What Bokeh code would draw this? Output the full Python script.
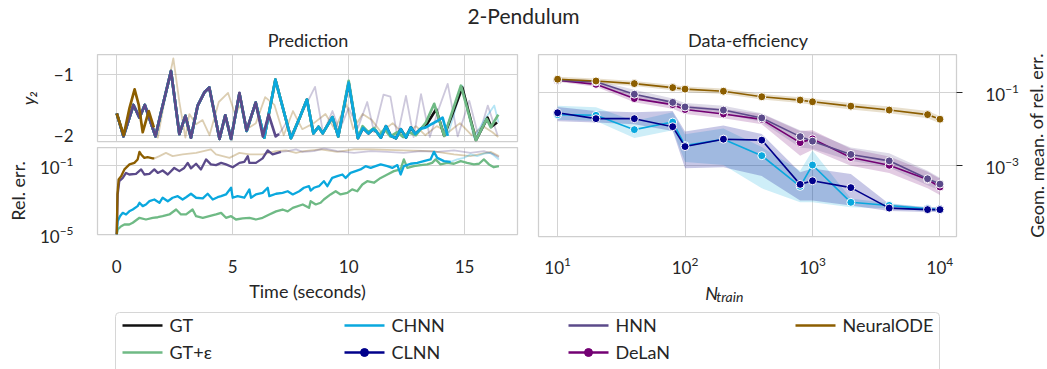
from bokeh.plotting import figure
from bokeh.layouts import column, row
from bokeh.models import Range1d, FixedTicker
from bokeh.embed import file_html
from bokeh.resources import INLINE
from bokeh.core.properties import value

FONT = "Lato"
TXT = "#262626"
GRID = "#d3d3d3"
OUTLINE = "#cfcfcf"

C_GT = "#111111"
C_GTE = "#6fba85"
C_CHNN = "#0aa8de"
C_CLNN = "#00008b"
C_HNN = "#5b4a8a"
C_DELAN = "#730073"
C_NODE = "#8c5e00"

# ---------------- Prediction: y2 trajectories ----------------
gt_t = [0.0, 0.29, 0.72, 0.98, 1.21, 1.67, 1.91, 2.12, 2.34, 2.70, 2.96, 3.20, 3.49, 3.78, 3.99, 4.43, 4.68, 4.93, 5.29, 5.60, 5.99, 6.36, 6.84, 7.51, 7.90, 8.20, 8.48, 8.70, 8.88, 9.30, 9.55, 10.00, 10.40, 10.62, 10.85, 11.05, 11.18, 11.39, 11.61, 11.82, 12.04, 12.25, 12.47, 12.68, 12.87, 13.12, 13.40, 13.77, 14.12, 14.90, 15.49, 15.99, 16.15, 16.40]
gt_y = [-1.64, -2.02, -1.50, -1.71, -1.50, -2.02, -1.62, -1.29, -0.94, -1.98, -1.68, -2.04, -1.51, -1.29, -1.21, -2.06, -1.67, -2.06, -1.31, -1.93, -1.46, -2.04, -1.08, -2.05, -1.70, -1.41, -1.97, -1.86, -1.97, -1.70, -2.02, -1.13, -2.05, -1.88, -1.97, -1.90, -1.93, -2.04, -1.85, -2.01, -2.05, -1.90, -2.04, -1.87, -1.98, -1.89, -1.80, -1.57, -2.01, -1.21, -2.08, -1.71, -1.86, -1.79]

gte_t = [0.0, 0.29, 0.72, 0.98, 1.21, 1.67, 1.91, 2.12, 2.34, 2.70, 2.96, 3.20, 3.49, 3.78, 3.99, 4.43, 4.68, 4.93, 5.29, 5.60, 5.99, 6.36, 6.84, 7.51, 7.90, 8.20, 8.48, 8.70, 8.88, 9.30, 9.55, 10.00, 10.40, 10.60, 10.85, 11.10, 11.30, 11.55, 11.80, 12.10, 12.35, 12.60, 12.90, 13.33, 13.69, 14.12, 14.84, 15.49, 15.95, 16.13, 16.45]
gte_y = [-1.64, -2.02, -1.50, -1.71, -1.50, -2.02, -1.62, -1.29, -0.94, -1.98, -1.68, -2.04, -1.51, -1.29, -1.21, -2.06, -1.67, -2.06, -1.31, -1.93, -1.46, -2.04, -1.08, -2.05, -1.70, -1.41, -1.97, -1.86, -1.97, -1.70, -2.02, -1.10, -2.04, -1.85, -1.95, -1.88, -2.00, -1.90, -2.02, -1.95, -2.03, -1.95, -2.00, -1.79, -1.48, -2.01, -1.18, -2.08, -1.73, -1.87, -1.66]

chnn_t = [0.0, 0.29, 0.72, 0.98, 1.21, 1.67, 1.91, 2.12, 2.34, 2.70, 2.96, 3.20, 3.49, 3.78, 3.99, 4.43, 4.68, 4.93, 5.29, 5.60, 5.99, 6.36, 6.84, 7.51, 7.90, 8.20, 8.48, 8.70, 8.88, 9.30, 9.55, 10.00, 10.40, 10.62, 10.85, 11.05, 11.18, 11.39, 11.61, 11.82, 12.04, 12.25, 12.47, 12.68, 12.87, 13.12, 13.33, 13.55, 13.84, 14.05, 14.27]
chnn_y = [-1.64, -2.02, -1.50, -1.71, -1.50, -2.02, -1.62, -1.29, -0.94, -1.98, -1.68, -2.04, -1.51, -1.29, -1.21, -2.06, -1.67, -2.06, -1.31, -1.93, -1.46, -2.04, -1.08, -2.05, -1.70, -1.41, -1.97, -1.86, -1.97, -1.70, -2.02, -1.13, -2.05, -1.88, -1.97, -1.90, -1.93, -2.04, -1.85, -2.01, -2.05, -1.90, -2.04, -1.87, -1.98, -1.89, -1.87, -1.82, -1.76, -1.71, -2.01]
chnn_fade_t = [14.27, 14.90, 15.40, 15.85, 16.28, 16.46]
chnn_fade_y = [-2.01, -1.18, -2.04, -1.75, -1.51, -1.79]

hnn_t = [0.0, 0.29, 0.72, 0.98, 1.21, 1.67, 1.91, 2.12, 2.34, 2.70, 2.96, 3.20, 3.49, 3.78, 3.99, 4.43, 4.68, 4.93, 5.29, 5.60, 5.99, 6.30, 6.55, 6.85, 7.00]
hnn_y = [-1.64, -2.02, -1.50, -1.71, -1.50, -2.02, -1.62, -1.29, -0.94, -1.98, -1.68, -2.04, -1.51, -1.29, -1.21, -2.06, -1.67, -2.06, -1.30, -1.92, -1.46, -2.02, -1.66, -2.02, -1.98]
hnn_fade_t = [7.00, 7.30, 7.60, 8.00, 8.55, 8.90, 9.30, 9.60, 10.00, 10.40, 10.80, 11.10, 11.50, 11.80, 12.10, 12.47, 12.80, 13.12, 13.50, 13.85, 14.27, 14.70, 15.20, 15.60, 16.00, 16.42]
hnn_fade_y = [-1.98, -1.80, -2.02, -1.62, -1.20, -1.97, -1.60, -1.92, -1.55, -1.88, -1.45, -1.95, -1.33, -1.36, -2.02, -1.35, -2.03, -1.32, -2.03, -1.60, -1.15, -2.02, -1.43, -2.02, -1.51, -2.00]

node_t = [0.0, 0.30, 0.55, 0.77, 0.95, 1.12, 1.38, 1.60]
node_y = [-1.64, -2.00, -1.55, -1.24, -1.50, -1.95, -1.60, -1.87]
node_fade_t = [1.60, 1.77, 2.10, 2.44, 2.70, 2.96, 3.13, 3.42, 3.70, 4.00, 4.40, 4.80, 5.10, 5.35, 5.60, 6.00, 6.40, 6.80, 7.20, 7.60, 8.00, 8.50, 9.00, 9.40, 9.90, 10.20, 10.60, 11.00, 11.40, 11.90, 12.40, 12.90, 13.30, 13.80, 14.30, 14.80, 15.30, 15.80, 16.20, 16.45]
node_fade_y = [-1.87, -2.04, -1.35, -0.73, -1.45, -2.04, -1.65, -1.82, -1.75, -2.00, -1.45, -1.30, -1.65, -1.50, -1.90, -1.80, -1.37, -1.50, -2.00, -1.60, -1.90, -1.80, -1.65, -1.90, -1.48, -1.90, -1.65, -1.75, -1.95, -1.80, -2.00, -1.85, -2.00, -1.85, -1.95, -1.80, -2.00, -1.85, -1.95, -2.03]

# ---------------- Prediction: relative error ----------------
node_err_t = [0.0, 0.03, 0.08, 0.19, 0.33, 0.55, 0.76, 0.90, 0.98, 1.05, 1.19, 1.33, 1.55, 1.62]
node_err = [1e-5, 2.1e-3, 1.55e-2, 2.4e-2, 5.9e-2, 0.115, 0.141, 0.224, 0.617, 0.437, 0.275, 0.30, 0.257, 0.257]
node_err_fade_t = [1.62, 1.84, 2.12, 2.41, 2.84, 3.42, 4.06, 4.28, 4.86, 5.29, 5.72, 6.29, 6.87, 7.30, 7.73, 8.07, 8.79, 9.51, 10.23, 10.95, 12.38, 13.61, 14.54, 15.25, 16.12, 16.48]
node_err_fade = [0.257, 0.347, 0.537, 0.347, 0.437, 0.537, 0.851, 0.437, 0.275, 0.537, 0.437, 0.437, 0.676, 0.741, 0.537, 0.676, 0.851, 0.617, 0.851, 0.851, 0.741, 0.676, 0.437, 0.347, 0.617, 0.347]

hnn_err_t = [0.0, 0.04, 0.11, 0.26, 0.40, 0.54, 0.83, 1.05, 1.19, 1.41, 1.62, 1.77, 1.98, 2.20, 2.48, 2.70, 2.91, 3.06, 3.20, 3.42, 3.63, 3.85, 4.06, 4.28, 4.50, 4.71, 5.00, 5.29, 5.50, 5.65, 5.72, 6.00, 6.29, 6.51, 6.72, 6.94, 7.08]
hnn_err = [1e-5, 2.1e-3, 1.23e-2, 1.9e-2, 3.7e-2, 3.0e-2, 3.3e-2, 5.9e-2, 3.0e-2, 3.3e-2, 5.9e-2, 3.7e-2, 5.1e-2, 3.0e-2, 7.2e-2, 4.7e-2, 7.2e-2, 0.141, 6.8e-2, 0.126, 5.9e-2, 0.224, 0.115, 0.105, 0.141, 0.115, 7.9e-2, 0.141, 0.162, 0.347, 0.141, 0.141, 0.257, 0.741, 0.437, 0.537, 0.617]
hnn_err_fade_t = [7.08, 7.37, 7.73, 8.02, 8.50, 8.93, 9.51, 10.23, 10.95, 11.66, 12.38, 13.10, 13.82, 14.54, 15.25, 15.83, 16.26, 16.48]
hnn_err_fade = [0.617, 0.676, 0.851, 0.617, 0.676, 0.977, 0.676, 0.537, 0.676, 0.617, 0.537, 0.676, 0.617, 0.741, 0.537, 0.676, 0.437, 0.30]

chnn_err_t = [0.0, 0.04, 0.14, 0.26, 0.40, 0.54, 0.69, 0.90, 0.98, 1.12,
              1.26, 1.41, 1.62, 1.84, 1.98, 2.20, 2.41, 2.63, 2.84, 2.99,
              3.20, 3.42, 3.71, 3.92, 4.14, 4.35, 4.50, 4.71, 4.93, 5.00,
              5.21, 5.50, 5.72, 5.79, 6.00, 6.29, 6.51, 6.58, 6.87, 7.15,
              7.37, 7.59, 7.87, 8.07, 8.29, 8.36, 8.50, 8.72, 8.93, 9.08,
              9.29, 9.51, 9.73, 9.87, 10.08, 10.30, 10.51, 10.73, 10.95, 11.16,
              11.38, 11.67, 11.88, 12.10, 12.24, 12.38, 12.67, 12.96, 13.24, 13.53,
              13.68, 13.82, 14.11, 14.40]
chnn_err = [1e-5, 5.9e-5, 1.15e-4, 1.8e-4, 1.45e-4, 2.2e-4, 2.8e-4, 4.4e-4, 6.9e-4, 4.4e-4,
            5.5e-4, 8.5e-4, 1.07e-3, 6.9e-4, 1.35e-3, 8.5e-4, 1.35e-3, 1.66e-3, 1.07e-3, 1.45e-3,
            2.3e-3, 1.35e-3, 1.23e-3, 2.3e-3, 1.07e-3, 1.45e-3, 1.66e-3, 2.1e-3, 5.1e-3, 1.35e-3,
            1.66e-3, 1.35e-3, 4.1e-3, 1.35e-3, 2.1e-3, 2.6e-3, 5.1e-3, 1.66e-3, 2.3e-3, 2.6e-3,
            3.2e-3, 2.1e-3, 3.2e-3, 5.1e-3, 6.3e-3, 3.5e-3, 5.1e-3, 6.3e-3, 1.23e-2, 6.3e-3,
            1.9e-2, 2.4e-2, 3.0e-2, 1.9e-2, 3.7e-2, 4.7e-2, 5.9e-2, 9.1e-2, 7.2e-2, 9.1e-2,
            0.115, 9.1e-2, 7.2e-2, 0.105, 3.0e-2, 9.1e-2, 0.126, 0.141, 0.178, 0.224,
            0.617, 0.275, 0.178, 0.162]
chnn_err_fade_t = [14.40, 14.68, 14.97, 15.25, 15.54, 15.83, 16.12, 16.48]
chnn_err_fade = [0.162, 0.224, 0.275, 0.437, 0.347, 0.48, 0.537, 0.224]

gte_err_t = [0.0, 0.04, 0.19, 0.33, 0.54, 0.69, 0.98, 1.26, 1.55, 1.77,
             1.98, 2.27, 2.56, 2.77, 2.99, 3.27, 3.42, 3.71, 3.99, 4.28,
             4.50, 4.71, 4.93, 5.14, 5.43, 5.72, 6.00, 6.29, 6.58, 6.87,
             7.15, 7.37, 7.59, 8.02, 8.29, 8.36, 8.58, 8.79, 8.93, 9.22,
             9.44, 9.65, 9.94, 10.15, 10.37, 10.59, 10.80, 11.09, 11.38, 11.67,
             11.95, 12.24, 12.38, 12.53, 12.81, 13.10, 13.39, 13.60, 13.75, 13.96,
             14.25, 14.54, 14.83, 15.11, 15.40, 15.62, 15.83, 16.05, 16.26, 16.48]
gte_err = [1e-5, 1.95e-5, 3.0e-5, 3.8e-5, 3.8e-5, 4.8e-5, 9.3e-5, 7.4e-5, 9.3e-5, 1.0e-4,
           1.15e-4, 1.45e-4, 2.8e-4, 1.45e-4, 1.45e-4, 2.8e-4, 1.15e-4, 9.3e-5, 1.15e-4, 1.45e-4,
           1.8e-4, 9.3e-5, 1.15e-4, 7.4e-5, 8.5e-5, 9.3e-5, 7.4e-5, 9.3e-5, 1.45e-4, 2.2e-4,
           2.8e-4, 2.2e-4, 3.5e-4, 5.5e-4, 3.5e-4, 8.5e-4, 5.5e-4, 6.9e-4, 1.07e-3, 2.1e-3,
           3.2e-3, 2.1e-3, 2.6e-3, 4.1e-3, 3.2e-3, 7.9e-3, 1.23e-2, 1.0e-2, 1.9e-2, 3.0e-2,
           4.7e-2, 5.9e-2, 0.224, 7.2e-2, 9.1e-2, 0.105, 0.115, 0.141, 0.224, 0.115,
           0.141, 0.126, 0.178, 0.141, 0.115, 0.126, 0.224, 0.115, 7.9e-2, 9.1e-2]

# ---------------- Data-efficiency ----------------
n_train = [10, 20, 40, 80, 100, 200, 400, 800, 1000, 2000, 4000, 8000, 10000]
node_de = [0.224, 0.20, 0.17, 0.132, 0.12, 0.105, 0.074, 0.060, 0.054, 0.041, 0.032, 0.024, 0.018]
node_lo = [0.19, 0.17, 0.145, 0.112, 0.10, 0.088, 0.062, 0.050, 0.045, 0.033, 0.026, 0.019, 0.014]
node_hi = [0.26, 0.235, 0.20, 0.155, 0.142, 0.125, 0.088, 0.072, 0.065, 0.050, 0.040, 0.030, 0.022]
hnn_de = [0.21, 0.19, 0.087, 0.052, 0.039, 0.032, 0.0195, 6.0e-3, 4.5e-3, 1.95e-3, 1.3e-3, 4.2e-4, 3.0e-4]
hnn_lo = [0.19, 0.17, 0.065, 0.042, 0.031, 0.025, 0.015, 3.0e-3, 2.8e-3, 1.3e-3, 8.5e-4, 2.8e-4, 2.0e-4]
hnn_hi = [0.235, 0.21, 0.115, 0.066, 0.050, 0.042, 0.026, 9.0e-3, 8.0e-3, 3.0e-3, 2.1e-3, 7.0e-4, 4.5e-4]
delan_de = [0.21, 0.162, 0.066, 0.045, 0.033, 0.025, 0.0178, 4.1e-3, 5.2e-3, 1.6e-3, 9.8e-4, 4.0e-4, 2.5e-4]
delan_lo = [0.19, 0.14, 0.052, 0.035, 0.025, 0.019, 0.013, 1.8e-3, 2.6e-3, 9.5e-4, 6.0e-4, 2.3e-4, 1.5e-4]
delan_hi = [0.235, 0.19, 0.085, 0.058, 0.044, 0.034, 0.025, 8.5e-3, 9.0e-3, 2.8e-3, 1.7e-3, 6.5e-4, 4.2e-4]
clnn_de = [0.027, 0.0186, 0.0186, 0.0112, 3.2e-3, 5.1e-3, 4.8e-3, 2.95e-4, 3.7e-4, 2.4e-4, 6.6e-5, 6.0e-5, 6.0e-5]
clnn_lo = [0.0158, 0.0145, 0.013, 8.5e-3, 8.1e-4, 8.7e-4, 5.0e-4, 1.07e-4, 1.07e-4, 7.8e-5, 5.5e-5, 5.2e-5, 5.2e-5]
clnn_hi = [0.039, 0.030, 0.028, 0.030, 8.3e-3, 0.012, 7.1e-3, 6.3e-4, 8.0e-4, 5.7e-4, 8.5e-5, 7.0e-5, 7.0e-5]
chnn_de = [0.024, 0.023, 9.3e-3, 0.015, 3.4e-3, 5.1e-3, 1.8e-3, 2.6e-4, 1.0e-3, 9.5e-5, 7.8e-5, 6.3e-5, 6.0e-5]
chnn_lo = [0.0175, 0.016, 5.5e-3, 9.0e-3, 1.2e-3, 1.0e-3, 2.3e-4, 9.5e-5, 9.5e-5, 7.0e-5, 6.5e-5, 5.5e-5, 5.5e-5]
chnn_hi = [0.042, 0.038, 0.016, 0.028, 7.0e-3, 0.010, 3.1e-3, 7.0e-4, 2.5e-3, 1.2e-4, 9.0e-5, 7.0e-5, 7.0e-5]

legend_labels = ["GT", "CHNN", "HNN", "NeuralODE", "GT+ε", "CLNN", "DeLaN"]
legend_colors = [C_GT, C_CHNN, C_HNN, C_NODE, C_GTE, C_CLNN, C_DELAN]
legend_markers = [False, False, False, False, False, True, True]


def base_fig(**kw):
    p = figure(output_backend="svg", toolbar_location=None, **kw)
    p.background_fill_color = "white"
    p.border_fill_color = "white"
    p.outline_line_color = OUTLINE
    p.outline_line_width = 1.25
    return p


def style_axes(p):
    for ax in p.axis:
        ax.axis_line_color = None
        ax.major_tick_line_color = None
        ax.minor_tick_line_color = None
        ax.major_tick_out = 0
        ax.major_tick_in = 0
        ax.major_label_text_font = FONT
        ax.major_label_text_font_size = "17px"
        ax.major_label_text_color = TXT
        ax.axis_label_text_font = FONT
        ax.axis_label_text_font_size = "18px"
        ax.axis_label_text_color = TXT
        ax.axis_label_text_font_style = "normal"
    for g in p.grid:
        g.grid_line_color = GRID
        g.grid_line_width = 1


def blank(p):
    p.axis.visible = False
    p.grid.visible = False
    p.outline_line_color = None


# ---- title strip (x 0..1022, y 0..53) ----
tfig = base_fig(width=1022, height=53, x_range=Range1d(0, 1022), y_range=Range1d(53, 0),
                min_border_left=0, min_border_right=0, min_border_top=0, min_border_bottom=0)
blank(tfig)
tfig.text(x=[523], y=[15], text=["2-Pendulum"], text_align="center", text_baseline="middle",
          text_font=value(FONT), text_font_size="21px", text_color=TXT)
tfig.text(x=[307.5, 747.5], y=[39, 39], text=["Prediction", "Data-efficiency"], text_align="center",
          text_baseline="middle", text_font=value(FONT), text_font_size="18px", text_color=TXT)

# ---- top-left: y2 (y 53..147) ----
top = base_fig(width=528, height=94, x_range=Range1d(-0.83, 17.28), y_range=Range1d(-2.104, -0.664),
               min_border_left=97, min_border_right=11, min_border_top=1, min_border_bottom=6)
style_axes(top)
top.xaxis.ticker = FixedTicker(ticks=[0, 5, 10, 15])
top.xaxis.visible = False
top.yaxis.ticker = FixedTicker(ticks=[-2, -1])
top.yaxis.major_label_overrides = {-2: "−2", -1: "−1"}
top.yaxis.major_label_standoff = 24
top.yaxis.axis_label = "y₂"
top.yaxis.axis_label_text_font_style = "italic"
top.yaxis.axis_label_standoff = 12

FW = 1.8
FA = 0.3
SW = 2.7
top.line(node_fade_t, node_fade_y, color=C_NODE, alpha=FA, line_width=FW, line_join="round")
top.line(hnn_fade_t, hnn_fade_y, color=C_HNN, alpha=FA, line_width=FW, line_join="round")
top.line(chnn_fade_t, chnn_fade_y, color=C_CHNN, alpha=FA, line_width=FW, line_join="round")
top.line(gt_t, gt_y, color=C_GT, line_width=SW, line_join="round")
top.line(gte_t, gte_y, color=C_GTE, line_width=SW, line_join="round")
top.line(chnn_t, chnn_y, color=C_CHNN, line_width=SW, line_join="round")
top.line(hnn_t, hnn_y, color=C_HNN, line_width=SW, line_join="round")
top.line(node_t, node_y, color=C_NODE, line_width=SW, line_join="round")

# ---- bottom-left: rel err (y 147..308) ----
bot = base_fig(width=528, height=161, x_range=Range1d(-0.83, 17.28), y_range=Range1d(1e-5, 1.1),
               y_axis_type="log",
               min_border_left=97, min_border_right=11, min_border_top=0, min_border_bottom=74)
style_axes(bot)
bot.xaxis.ticker = FixedTicker(ticks=[0, 5, 10, 15])
bot.yaxis.ticker = FixedTicker(ticks=[1e-5, 1e-1])
bot.xaxis.major_label_standoff = 25
bot.xaxis.axis_label = "Time (seconds)"
bot.xaxis.axis_label_standoff = 4
bot.yaxis.major_label_standoff = 24
bot.yaxis.axis_label = "Rel. err."
bot.yaxis.axis_label_standoff = 8

EW = 2.3
bot.line(node_err_fade_t, node_err_fade, color=C_NODE, alpha=FA, line_width=FW, line_join="round")
bot.line(hnn_err_fade_t, hnn_err_fade, color=C_HNN, alpha=FA, line_width=FW, line_join="round")
bot.line(chnn_err_fade_t, chnn_err_fade, color=C_CHNN, alpha=FA, line_width=FW, line_join="round")
bot.line(gte_err_t, gte_err, color=C_GTE, line_width=EW, line_join="round")
bot.line(chnn_err_t, chnn_err, color=C_CHNN, line_width=EW, line_join="round")
bot.line(hnn_err_t, hnn_err, color=C_HNN, line_width=EW, line_join="round")
bot.line(node_err_t, node_err, color=C_NODE, line_width=EW, line_join="round")

# ---- right: data efficiency (x 528..1022, y 53..282) ----
rgt = base_fig(width=494, height=229, x_axis_type="log", y_axis_type="log", y_axis_location="right",
               x_range=Range1d(7.08, 13490), y_range=Range1d(1.1e-5, 1.065),
               min_border_left=10, min_border_right=65, min_border_top=1, min_border_bottom=46)
style_axes(rgt)
rgt.xaxis.ticker = FixedTicker(ticks=[10, 100, 1000, 10000])
rgt.yaxis.ticker = FixedTicker(ticks=[1e-5, 1e-3, 1e-1])
rgt.yaxis.major_tick_line_color = TXT
rgt.yaxis.major_tick_out = 6
rgt.yaxis.major_label_standoff = 23
rgt.xaxis.major_label_standoff = 20

series = [
    (chnn_de, chnn_lo, chnn_hi, C_CHNN, 0.2),
    (clnn_de, clnn_lo, clnn_hi, C_CLNN, 0.22),
    (delan_de, delan_lo, delan_hi, C_DELAN, 0.2),
    (hnn_de, hnn_lo, hnn_hi, C_HNN, 0.2),
    (node_de, node_lo, node_hi, C_NODE, 0.2),
]
for de, lo, hi, col, a in series:
    rgt.varea(x=n_train, y1=lo, y2=hi, fill_color=col, fill_alpha=a)
for de, lo, hi, col, a in series:
    rgt.line(n_train, de, color=col, line_width=1.6)
    rgt.scatter(n_train, de, size=8, fill_color=col, line_color="white", line_width=1)

# ---- x-axis title strip "N_train" under the right panel (x 528..1022, y 282..308) ----
nst = base_fig(width=494, height=26, x_range=Range1d(528, 1022), y_range=Range1d(26, 0),
               min_border_left=0, min_border_right=0, min_border_top=0, min_border_bottom=0)
blank(nst)
nst.text(x=[725], y=[10], text=["N"], text_baseline="middle", text_font=value(FONT),
         text_font_size="18px", text_font_style="italic", text_color=TXT)
nst.text(x=[738], y=[14], text=["train"], text_baseline="middle", text_font=value(FONT),
         text_font_size="14px", text_font_style="italic", text_color=TXT)

# ---- right axis title strip (x 1022..1047, y 0..308) ----
lab = base_fig(width=25, height=308, x_range=Range1d(0, 25), y_range=Range1d(0, 308),
               min_border_left=0, min_border_right=0, min_border_top=0, min_border_bottom=0)
blank(lab)
lab.text(x=[14], y=[163], text=["Geom. mean. of rel. err."], angle=1.5708,
         text_align="center", text_baseline="middle",
         text_font=value(FONT), text_font_size="18px", text_color=TXT)

# ---- legend strip (y 308..369) ----
leg = base_fig(width=1047, height=61, x_range=Range1d(0, 1047), y_range=Range1d(61, 0),
               min_border_left=0, min_border_right=0, min_border_top=0, min_border_bottom=0)
blank(leg)
leg.quad(left=[115], right=[939], top=[4], bottom=[75], fill_color="white",
         line_color="#d6d6d6", line_width=1, border_radius=4)
col_x0 = [122, 344, 568, 795, 122, 344, 568]
row_y = [17, 17, 17, 17, 44, 44, 44]
for i in range(len(legend_labels)):
    leg.line([col_x0[i], col_x0[i] + 40], [row_y[i], row_y[i]], color=legend_colors[i], line_width=2.5)
    if legend_markers[i]:
        leg.scatter([col_x0[i] + 20], [row_y[i]], size=8, fill_color=legend_colors[i],
                    line_color=legend_colors[i])
leg.text(x=[c + 47 for c in col_x0], y=[r - 1 for r in row_y], text=legend_labels, text_baseline="middle",
         text_font=value(FONT), text_font_size="18px", text_color=TXT)

main = column(tfig, row(column(top, bot), column(rgt, nst)))
layout = column(row(main, lab), leg)

open("out.html", "w").write(file_html(layout, INLINE))
